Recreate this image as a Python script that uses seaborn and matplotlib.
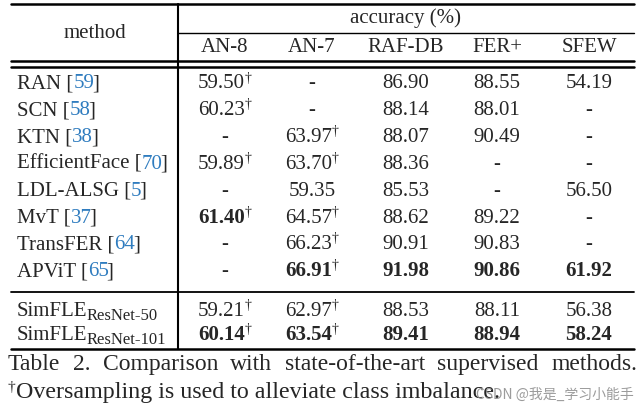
import seaborn as sns
import pandas as pd
import matplotlib
matplotlib.use("Agg")
import matplotlib.pyplot as plt

# table content
methods = ["RAN", "SCN", "KTN", "EfficientFace", "LDL-ALSG", "MvT",
           "TransFER", "APViT", "SimFLE", "SimFLE"]
refs = ["59", "58", "38", "70", "5", "37", "64", "65", None, None]
subs = [None] * 8 + ["ResNet-50", "ResNet-101"]
datasets = ["AN-8", "AN-7", "RAF-DB", "FER+", "SFEW"]

an8 = [59.50, 60.23, None, 59.89, None, 61.40, None, None, 59.21, 60.14]
an7 = [None, None, 63.97, 63.70, 59.35, 64.57, 66.23, 66.91, 62.97, 63.54]
rafdb = [86.90, 88.14, 88.07, 88.36, 85.53, 88.62, 90.91, 91.98, 88.53, 89.41]
ferplus = [88.55, 88.01, 90.49, None, None, 89.22, 90.83, 90.86, 88.11, 88.94]
sfew = [54.19, None, None, None, 56.50, None, None, 61.92, 56.38, 58.24]

# oversampling marks and best results
dag_an8 = [1, 1, 0, 1, 0, 1, 0, 0, 1, 1]
dag_an7 = [0, 0, 1, 1, 0, 1, 1, 1, 1, 1]
no_dag = [0] * 10
bold_an8 = [0, 0, 0, 0, 0, 1, 0, 0, 0, 1]
bold_an7 = [0, 0, 0, 0, 0, 0, 0, 1, 0, 1]
bold_raf = [0, 0, 0, 0, 0, 0, 0, 1, 0, 1]
bold_fer = [0, 0, 0, 0, 0, 0, 0, 1, 0, 1]
bold_sfew = [0, 0, 0, 0, 0, 0, 0, 1, 0, 1]

caption1 = "Table 2. Comparison with state-of-the-art supervised methods."
caption2 = "Oversampling is used to alleviate class imbalance."
watermark = "CSDN @我是_学习小能手"

df = pd.DataFrame({"AN-8": an8, "AN-7": an7, "RAF-DB": rafdb,
                   "FER+": ferplus, "SFEW": sfew})
dags = {"AN-8": dag_an8, "AN-7": dag_an7, "RAF-DB": no_dag,
        "FER+": no_dag, "SFEW": no_dag}
bolds = {"AN-8": bold_an8, "AN-7": bold_an7, "RAF-DB": bold_raf,
         "FER+": bold_fer, "SFEW": bold_sfew}

sns.set_theme(style="white")
plt.rcParams["font.family"] = ["Liberation Serif", "DejaVu Serif"]

fig = plt.figure(figsize=(6.43, 4.11), dpi=100)
ax = fig.add_axes([0, 0, 1, 1])
ax.set_xlim(0, 643)
ax.set_ylim(411, 0)
ax.axis("off")
renderer = fig.canvas.get_renderer()

FS = 15
BLUE = "#2f7cbf"
col_x = [225, 312, 406, 497, 589]
left, right, vline = 11, 634, 178


def row_base(i):
    if i < 8:
        return 88.5 + 26.8 * i
    return [316, 340][i - 8]


def text_w(s, **kw):
    t = ax.text(0, 0, s, **kw)
    w = t.get_window_extent(renderer).width
    t.remove()
    return w


def pieces(items, x, y, ha="left"):
    arts, widths = [], []
    for it in items:
        if it[0] == "gap":
            arts.append(None)
            widths.append(it[1])
            continue
        s, kw, dy = it
        t = ax.text(0, y + dy, s, va="baseline", ha="left", **kw)
        arts.append(t)
        widths.append(t.get_window_extent(renderer).width)
    start = x - sum(widths) / 2 if ha == "center" else x
    for t, w in zip(arts, widths):
        if t is not None:
            t.set_x(start)
        start += w


# rules
ax.plot([left, right], [4.5, 4.5], color="black", lw=1.8)
ax.plot([vline, right], [33, 33], color="black", lw=1.0)
ax.plot([left, right], [61, 61], color="black", lw=1.8)
ax.plot([left, right], [67.5, 67.5], color="black", lw=1.8)
ax.plot([left, right], [292, 292], color="black", lw=1.3)
ax.plot([left, right], [348.5, 348.5], color="black", lw=1.8)
ax.plot([vline, vline], [4.5, 348.5], color="black", lw=1.5)

# header
ax.text(95, 38, "method", fontsize=FS, ha="center", va="baseline")
ax.text(406, 23, "accuracy (%)", fontsize=FS, ha="center", va="baseline")
for cx, name in zip(col_x, datasets):
    ax.text(cx, 52, name, fontsize=FS, ha="center", va="baseline")

# method column
x0 = 17
for i, m in enumerate(methods):
    y = row_base(i)
    if refs[i] is not None:
        head = m + " ["
        w1 = text_w(head, fontsize=FS)
        w2 = text_w(head + refs[i] + "]", fontsize=FS)
        w3 = text_w("]", fontsize=FS)
        ax.text(x0, y, head, fontsize=FS, va="baseline")
        ax.text(x0 + w1, y, refs[i], fontsize=FS, color=BLUE, va="baseline")
        ax.text(x0 + w2 - w3 - 2, y, "]", fontsize=FS, va="baseline")
    else:
        pieces([(m, dict(fontsize=FS), 0), ("gap", -1),
                (subs[i], dict(fontsize=12), 4)], x0, y)

# values
for cx, col in zip(col_x, datasets):
    for i, v in enumerate(df[col]):
        y = row_base(i)
        if pd.isna(v):
            ax.text(cx, y, "-", fontsize=FS, ha="center", va="baseline")
            continue
        w = "bold" if bolds[col][i] else "normal"
        items = [(f"{v:.2f}", dict(fontsize=FS, fontweight=w), 0)]
        if dags[col][i]:
            items += [("†", dict(fontsize=10), -7)]
        pieces(items, cx, y, ha="center")

# caption, justified over the full width
words = caption1.split(" ")
arts = [ax.text(0, 370, wd, fontsize=17, va="baseline") for wd in words]
ws = [a.get_window_extent(renderer).width for a in arts]
gap = (637 - 8 - sum(ws)) / (len(words) - 1)
x = 8
for a, wd in zip(arts, ws):
    a.set_x(x)
    x += wd + gap

pieces([("†", dict(fontsize=11), -7), (caption2, dict(fontsize=17.3), 0)], 8, 398)

ax.text(476, 399, watermark, fontsize=10, color="#8a8a8a", alpha=0.85,
        family=["Noto Sans CJK SC", "DejaVu Sans"], va="baseline")

fig.savefig("out.png", dpi=100, facecolor="white")
